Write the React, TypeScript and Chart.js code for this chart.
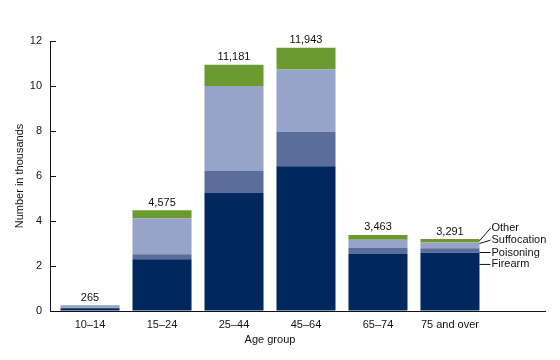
import React, { useEffect, useRef } from "react";
import { Chart, registerables } from "chart.js";

Chart.register(...registerables);

const categories = ["10–14", "15–24", "25–44", "45–64", "65–74", "75 and over"];
const firearm = [0.12, 2.3, 5.24, 6.43, 2.53, 2.59];
const poisoning = [0.03, 0.22, 1.01, 1.54, 0.27, 0.2];
const suffocation = [0.1, 1.6, 3.75, 2.76, 0.37, 0.26];
const other = [0.015, 0.36, 0.95, 0.97, 0.21, 0.15];
const totalLabels = ["265", "4,575", "11,181", "11,943", "3,463", "3,291"];
const yTicks = [0, 2, 4, 6, 8, 10, 12];

const seriesNames = ["Firearm", "Poisoning", "Suffocation", "Other"];
const seriesColors = ["#00285e", "#5b6e9b", "#97a3c8", "#6b9a30"];
// annotation anchors (data units) for the label text and leader start
const annoTextY = [2.07, 2.6, 3.15, 3.68];
const annoStartY = [2.07, 2.6, 3.0, 3.12];

const FONT = '"Liberation Sans", Arial, sans-serif';

export default function App() {
  const ref = useRef<HTMLCanvasElement | null>(null);

  useEffect(() => {
    document.body.style.margin = "0";
    const canvas = ref.current;
    if (!canvas) return;
    const seriesData = [firearm, poisoning, suffocation, other];

    const overlay = {
      id: "overlay",
      afterDraw(chart: any) {
        const ctx = chart.ctx;
        const area = chart.chartArea;
        const ys = chart.scales.y;
        const xs = chart.scales.x;
        ctx.save();
        ctx.fillStyle = "#111";
        ctx.strokeStyle = "#111";
        ctx.lineWidth = 1;
        ctx.font = `11px ${FONT}`;

        // inward y tick marks
        yTicks.forEach((v) => {
          const y = Math.round(ys.getPixelForValue(v)) + 0.5;
          ctx.beginPath();
          ctx.moveTo(area.left, y);
          ctx.lineTo(area.left + 6, y);
          ctx.stroke();
        });

        // totals
        const topMeta = chart.getDatasetMeta(3);
        ctx.textAlign = "center";
        ctx.textBaseline = "bottom";
        topMeta.data.forEach((el: any, i: number) => {
          ctx.fillText(totalLabels[i], el.x, el.y - 2);
        });

        // y title
        ctx.save();
        ctx.translate(20, (area.top + area.bottom) / 2);
        ctx.rotate(-Math.PI / 2);
        ctx.textAlign = "center";
        ctx.textBaseline = "middle";
        ctx.fillText("Number in thousands", 0, 0);
        ctx.restore();

        // x title
        const cx = (xs.getPixelForValue(0) + xs.getPixelForValue(categories.length - 1)) / 2;
        ctx.textAlign = "center";
        ctx.textBaseline = "middle";
        ctx.fillText("Age group", cx, 340);

        // annotations for last bar
        const last = topMeta.data[categories.length - 1];
        const right = last.x + last.width / 2;
        ctx.textAlign = "left";
        ctx.textBaseline = "middle";
        seriesNames.forEach((name, k) => {
          const ty = ys.getPixelForValue(annoTextY[k]);
          const sy = ys.getPixelForValue(annoStartY[k]);
          ctx.beginPath();
          ctx.moveTo(right, sy);
          ctx.lineTo(right + 11, ty);
          ctx.stroke();
          ctx.fillText(name, right + 12, ty);
        });
        ctx.restore();
      },
    };

    const chart = new Chart(canvas, {
      type: "bar",
      data: {
        datasets: seriesData.map((arr, k) => ({
          label: seriesNames[k],
          data: arr.map((v, i) => ({ x: i, y: v })),
          backgroundColor: seriesColors[k],
          borderWidth: 0,
          categoryPercentage: 1,
          barPercentage: 0.82,
        })),
      },
      options: {
        responsive: false,
        animation: false,
        layout: { padding: { top: 41, right: 15, left: 0, bottom: 0 } },
        plugins: { legend: { display: false }, tooltip: { enabled: false } },
        scales: {
          x: {
            type: "linear",
            stacked: true,
            offset: false,
            bounds: "ticks",
            min: -0.556,
            max: 6.32,
            afterBuildTicks: (s: any) => {
              s.ticks = categories.map((_, i) => ({ value: i }));
            },
            afterFit: (s: any) => {
              s.height = 49;
            },
            ticks: {
              autoSkip: false,
              maxRotation: 0,
              padding: 7,
              color: "#111",
              font: { family: FONT, size: 11 },
              callback: (v: any) => categories[v] ?? "",
            },
            grid: { display: true, drawOnChartArea: false, drawTicks: false },
            border: { display: true, color: "#111", width: 1 },
          },
          y: {
            stacked: true,
            min: 0,
            max: 12,
            afterBuildTicks: (s: any) => {
              s.ticks = yTicks.map((v) => ({ value: v }));
            },
            afterFit: (s: any) => {
              s.width = 50;
            },
            ticks: {
              padding: 8,
              color: "#111",
              font: { family: FONT, size: 11 },
            },
            grid: { display: true, drawOnChartArea: false, drawTicks: false },
            border: { display: true, color: "#111", width: 1 },
          },
        },
      },
      plugins: [overlay],
    } as any);

    return () => chart.destroy();
  }, []);

  return <canvas ref={ref} width={560} height={360} style={{ display: "block" }} />;
}
